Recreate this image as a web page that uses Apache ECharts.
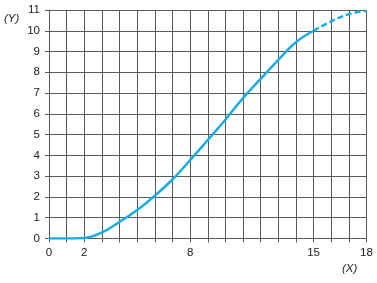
<!DOCTYPE html>
<html><head><meta charset="utf-8">
<script src="https://cdn.jsdelivr.net/npm/echarts@6/dist/echarts.min.js"></script>
<style>html,body{margin:0;padding:0;background:#fff}#c{width:377px;height:283px}</style>
</head><body><div id="c"></div>
<script>
const xValues = [0,1,2,3,4,5,6,7,8,9,10,11,12,13,14,15,16,17,18];
const yValues = [0,0,0.02,0.29,0.8,1.37,2.06,2.84,3.77,4.74,5.72,6.76,7.68,8.6,9.45,10.0,10.45,10.8,10.97];
const solidEnd = 15;
const xTickLabels = [0,2,8,15,18];
const yTickLabels = [0,1,2,3,4,5,6,7,8,9,10,11];

const solid = [], dashed = [];
xValues.forEach((x,i)=>{
  if (x <= solidEnd) solid.push([x, yValues[i]]);
  if (x >= solidEnd) dashed.push([x, yValues[i]]);
});
const lineColor = '#19ace5';
const gridColor = '#5a5a5a';
const chart = echarts.init(document.getElementById('c'), null, {renderer:'canvas'});
chart.setOption({
  animation:false,
  grid:{left:49, right:10.5, top:10, bottom:44.5, containLabel:false},
  xAxis:{type:'value', min:0, max:18, interval:1,
    axisLine:{show:true, lineStyle:{color:gridColor, width:1}},
    axisTick:{show:true, length:4, lineStyle:{color:gridColor}},
    splitLine:{show:true, lineStyle:{color:gridColor, width:1}},
    axisLabel:{margin:8, color:'#222', fontSize:11.5, fontFamily:'Liberation Sans, Arial, sans-serif',
      formatter:v=> xTickLabels.includes(v) ? String(v) : ''}
  },
  yAxis:{type:'value', min:0, max:11, interval:1,
    axisLine:{show:true, lineStyle:{color:gridColor, width:1}},
    axisTick:{show:true, length:4, lineStyle:{color:gridColor}},
    splitLine:{show:true, lineStyle:{color:gridColor, width:1}},
    axisLabel:{margin:9, color:'#222', fontSize:11.5, fontFamily:'Liberation Sans, Arial, sans-serif',
      formatter:v=> yTickLabels.includes(v) ? String(v) : ''}
  },
  graphic:[
    {type:'text', left:4, top:13, style:{text:'(Y)', fontSize:11.5, fontStyle:'italic', fill:'#222', fontFamily:'Liberation Sans, Arial, sans-serif'}},
    {type:'text', left:342, top:263, style:{text:'(X)', fontSize:11.5, fontStyle:'italic', fill:'#222', fontFamily:'Liberation Sans, Arial, sans-serif'}}
  ],
  series:[
    {type:'line', data:solid, smooth:0.4, showSymbol:false, lineStyle:{color:lineColor, width:2.5}},
    {type:'line', data:dashed, smooth:0.4, showSymbol:false, lineStyle:{color:lineColor, width:2.5, type:[6,3]}}
  ]
});
</script></body></html>
